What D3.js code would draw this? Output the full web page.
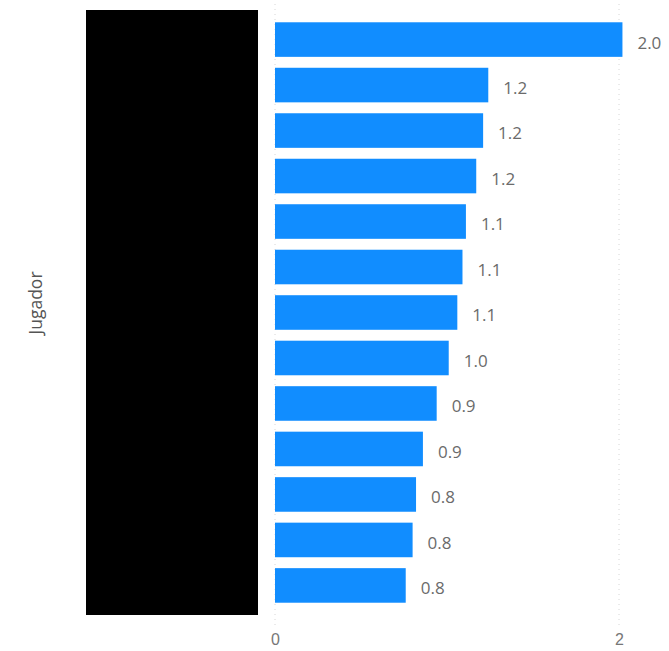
<!DOCTYPE html>
<html>
<head>
<meta charset="utf-8">
<script src="https://cdn.jsdelivr.net/npm/d3@7/dist/d3.min.js"></script>
<style>
  html, body { margin: 0; padding: 0; background: #ffffff; }
  svg { display: block; font-family: "Segoe UI", "Open Sans", "Noto Sans", sans-serif; }
</style>
</head>
<body>
<svg id="chart" width="669" height="651"></svg>
<script>
// Players (names redacted) and their values
const players = ["J01", "J02", "J03", "J04", "J05", "J06", "J07", "J08", "J09", "J10", "J11", "J12", "J13"];
const values = [2.02, 1.24, 1.21, 1.17, 1.11, 1.09, 1.06, 1.01, 0.94, 0.86, 0.82, 0.80, 0.76];
const xTicks = [0, 2];
const axisTitle = "Jugador";

const svg = d3.select("#chart");

const x = d3.scaleLinear().domain([0, 2]).range([275, 619]);
const y = d3.scaleBand().domain(players).range([10, 615]).paddingInner(0.24).paddingOuter(0.27);

// dotted vertical gridlines
svg.append("g").selectAll("line").data(xTicks).join("line")
  .attr("x1", d => x(d)).attr("x2", d => x(d))
  .attr("y1", 4).attr("y2", 626)
  .attr("stroke", "#d6d6d6").attr("stroke-width", 1)
  .attr("stroke-dasharray", "1,4");

// x axis tick labels
const xAxis = d3.axisBottom(x).tickValues(xTicks).tickFormat(d3.format("d")).tickSize(0).tickPadding(0);
const gx = svg.append("g").attr("transform", "translate(0,634)").call(xAxis);
gx.select(".domain").remove();
gx.selectAll("text").attr("fill", "#777").attr("font-size", 16).attr("dy", "0.71em");

// bars
svg.append("g").selectAll("rect").data(values).join("rect")
  .attr("x", x(0))
  .attr("y", (d, i) => y(players[i]))
  .attr("width", d => x(d) - x(0))
  .attr("height", y.bandwidth())
  .attr("fill", "#118DFF");

// data labels
svg.append("g").selectAll("text").data(values).join("text")
  .attr("x", d => x(d) + 15)
  .attr("y", (d, i) => y(players[i]) + y.bandwidth() / 2 + 3)
  .attr("dy", "0.35em")
  .attr("fill", "#6b6b6b")
  .attr("font-size", 17)
  .text(d => d3.format(".1f")(d));

// redaction block over category labels
svg.append("rect")
  .attr("x", 86).attr("y", 10)
  .attr("width", 172).attr("height", 605)
  .attr("fill", "#000");

// y axis title
svg.append("text")
  .attr("transform", "translate(42,303) rotate(-90)")
  .attr("text-anchor", "middle")
  .attr("fill", "#555")
  .attr("font-size", 17.5)
  .text(axisTitle);
</script>
</body>
</html>
